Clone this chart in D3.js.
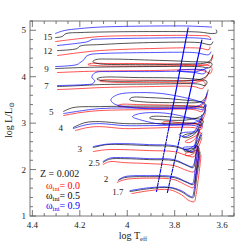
<!DOCTYPE html>
<html><head><meta charset="utf-8">
<script src="https://cdn.jsdelivr.net/npm/d3@7"></script>
<style>
html,body{margin:0;padding:0;background:#fff;}
svg{display:block;}
text{font-family:"Liberation Serif","DejaVu Serif",serif;}
</style></head>
<body>
<svg id="c" width="247" height="247"></svg>
<script>
// ---- data: tracks [logTeff, logL] ----
const xTicks = [4.4, 4.2, 4.0, 3.8, 3.6];
const xTickLabels = ["4.4", "4.2", "4", "3.8", "3.6"];
const yTicks = [1, 2, 3, 4, 5];
const yTickLabels = ["1", "2", "3", "4", "5"];
const rotations = ["0.0", "0.5", "0.9"];
const metallicity = "0.002";
const massLabels = ["15", "12", "9", "7", "5", "4", "3", "2.5", "2", "1.7"];
const massLabelPos = [[4.335,4.86],[4.335,4.55],[4.34,4.16],[4.34,3.79],[4.32,3.23],[4.28,2.90],[4.20,2.44],[4.14,2.14],[4.09,1.79],[4.04,1.52]];

const red15 = [[4.304,4.757],[4.199,4.822],[4.116,4.865],[3.906,4.886],[3.697,4.886],[3.655,4.865],[3.647,4.800]];
const black15 = [[4.304,4.843],[4.275,4.865],[4.258,4.929],[4.199,4.951],[4.116,4.962],[3.906,4.972],[3.697,4.962],[3.639,4.929],[3.622,4.951],[3.626,5.015]];
const blue15 = [[4.304,4.929],[4.266,4.994],[4.199,5.037],[4.116,5.069],[3.906,5.091],[3.739,5.091],[3.643,5.069]];

const red12 = [[4.296,4.455],[4.199,4.520],[4.116,4.563],[3.906,4.606],[3.697,4.617],[3.655,4.584],[3.651,4.649]];
const black12 = [[4.296,4.563],[4.212,4.606],[4.199,4.660],[4.116,4.692],[3.906,4.735],[3.697,4.735],[3.647,4.692],[3.639,4.757]];
const blue12 = [[4.296,4.671],[4.220,4.714],[4.166,4.757],[4.149,4.800],[4.116,4.811],[3.906,4.832],[3.697,4.832],[3.647,4.800]];

const red9 = [[4.296,4.089],[4.199,4.110],[4.116,4.121],[3.906,4.132],[3.697,4.143],[3.668,4.110],[3.651,4.067],[3.643,4.132],[3.647,4.218],[3.739,4.261],[3.906,4.283],[4.074,4.283],[4.157,4.283],[4.166,4.261],[4.137,4.240],[3.990,4.229],[3.781,4.240],[3.664,4.261],[3.647,4.326],[3.639,4.455]];
const black9 = [[4.304,4.175],[4.199,4.197],[4.116,4.207],[3.906,4.218],[3.697,4.218],[3.651,4.197],[3.643,4.283],[3.739,4.326],[3.906,4.358],[4.074,4.380],[4.132,4.369],[4.145,4.326],[4.124,4.283],[3.990,4.261],[3.781,4.272],[3.655,4.326],[3.639,4.477]];
const blue9 = [[4.304,4.218],[4.212,4.261],[4.199,4.304],[4.182,4.369],[4.174,4.434],[4.157,4.477],[4.116,4.498],[3.906,4.520],[3.718,4.520],[3.655,4.477],[3.647,4.541]];

const red7 = [[4.296,3.722],[4.199,3.744],[4.116,3.765],[3.906,3.787],[3.718,3.787],[3.685,3.744],[3.672,3.809],[3.676,3.895],[3.781,3.916],[3.990,3.927],[4.107,3.927],[4.116,3.906],[4.074,3.884],[3.865,3.873],[3.697,3.895],[3.668,3.981],[3.655,4.110]];
const black7 = [[4.296,3.787],[4.199,3.809],[4.116,3.830],[3.906,3.841],[3.697,3.841],[3.672,3.809],[3.664,3.895],[3.739,3.959],[3.948,3.981],[4.116,3.981],[4.128,3.949],[4.103,3.916],[3.906,3.906],[3.697,3.938],[3.664,4.024],[3.651,4.153]];
const blue7 = [[4.296,3.809],[4.178,3.830],[4.145,3.852],[4.137,3.916],[4.149,3.981],[4.145,4.046],[4.128,4.100],[4.074,4.110],[3.906,4.110],[3.739,4.110],[3.676,4.067],[3.668,4.132],[3.760,4.153],[3.789,4.132],[3.718,4.100],[3.659,4.197]];

const red5 = [[4.270,3.162],[4.199,3.227],[4.116,3.270],[3.906,3.291],[3.718,3.291],[3.685,3.248],[3.676,3.334],[3.781,3.378],[3.948,3.399],[4.032,3.399],[4.040,3.367],[3.990,3.345],[3.823,3.334],[3.697,3.356],[3.672,3.464],[3.664,3.615]];
const black5 = [[4.270,3.248],[4.229,3.334],[4.116,3.356],[3.906,3.367],[3.706,3.356],[3.680,3.334],[3.672,3.421],[3.781,3.507],[3.906,3.550],[3.982,3.550],[3.990,3.507],[3.948,3.464],[3.781,3.442],[3.689,3.464],[3.668,3.571],[3.659,3.722]];
const blue5 = [[4.270,3.205],[4.116,3.313],[3.906,3.324],[3.706,3.313],[3.680,3.291],[3.676,3.399],[3.823,3.615],[3.948,3.658],[4.040,3.615],[4.069,3.507],[4.057,3.421],[3.978,3.334],[3.823,3.313],[3.697,3.378],[3.672,3.507],[3.664,3.658]];

const red4 = [[4.220,2.839],[4.170,2.903],[4.116,2.925],[4.011,2.882],[3.906,2.893],[3.718,2.903],[3.689,2.860],[3.685,2.947],[3.781,3.011],[3.844,3.033],[3.852,3.000],[3.802,2.979],[3.697,3.011],[3.676,3.140],[3.668,3.291]];
const black4 = [[4.229,2.903],[4.178,3.011],[4.116,3.033],[4.011,2.990],[3.906,2.990],[3.714,2.990],[3.689,2.947],[3.680,3.054],[3.781,3.119],[3.898,3.140],[3.906,3.108],[3.865,3.076],[3.739,3.076],[3.680,3.184],[3.668,3.399]];
const blue4 = [[4.229,2.882],[4.170,2.968],[4.116,2.990],[4.011,2.947],[3.906,2.947],[3.714,2.947],[3.689,2.903],[3.685,2.990],[3.823,3.205],[3.948,3.205],[3.978,3.140],[3.948,3.076],[3.835,2.968],[3.697,3.054],[3.676,3.227],[3.668,3.399]];

const red3 = [[4.145,2.386],[4.086,2.429],[4.011,2.429],[3.906,2.408],[3.802,2.386],[3.747,2.300],[3.718,2.278],[3.706,2.472],[3.693,2.817],[3.710,2.731],[3.743,2.645],[3.756,2.602],[3.739,2.580],[3.710,2.688],[3.685,3.033],[3.680,3.119]];
const black3 = [[4.145,2.472],[4.086,2.537],[4.011,2.537],[3.906,2.515],[3.802,2.494],[3.747,2.408],[3.722,2.365],[3.706,2.645],[3.697,2.860],[3.714,2.796],[3.756,2.753],[3.768,2.709],[3.747,2.688],[3.710,2.796],[3.685,3.119]];
const blue3 = [[4.145,2.494],[4.086,2.548],[4.011,2.559],[3.906,2.537],[3.802,2.515],[3.752,2.429],[3.726,2.386],[3.710,2.645],[3.701,2.860],[3.718,2.817],[3.764,2.796],[3.781,2.753],[3.756,2.709],[3.714,2.839],[3.685,3.184]];

const red25 = [[4.103,2.106],[4.074,2.171],[4.011,2.149],[3.906,2.128],[3.802,2.084],[3.747,1.977],[3.718,1.955],[3.706,2.257],[3.701,2.429],[3.722,2.386],[3.756,2.343],[3.752,2.300],[3.714,2.365],[3.685,2.688]];
const black25 = [[4.103,2.149],[4.074,2.2245],[4.011,2.235],[3.906,2.214],[3.802,2.192],[3.747,2.084],[3.722,2.041],[3.710,2.321],[3.701,2.494],[3.726,2.451],[3.760,2.429],[3.756,2.386],[3.718,2.451],[3.685,2.753]];
const blue25 = [[4.103,2.171],[4.074,2.246],[4.011,2.257],[3.906,2.235],[3.802,2.214],[3.752,2.106],[3.726,2.063],[3.710,2.343],[3.706,2.515],[3.726,2.494],[3.764,2.472],[3.760,2.429],[3.722,2.494],[3.685,2.796]];

const red2 = [[4.044,1.718],[4.011,1.783],[3.906,1.815],[3.802,1.783],[3.747,1.653],[3.722,1.610],[3.710,1.890],[3.701,2.214],[3.697,2.429]];
const black2 = [[4.040,1.761],[4.011,1.826],[3.906,1.847],[3.802,1.826],[3.747,1.718],[3.722,1.675],[3.710,1.955],[3.701,2.257],[3.697,2.472]];
const blue2 = [[4.036,1.783],[4.011,1.847],[3.906,1.869],[3.802,1.847],[3.752,1.740],[3.726,1.696],[3.714,1.998],[3.706,2.300],[3.701,2.515]];

const red17 = [[3.982,1.481],[3.906,1.546],[3.823,1.567],[3.772,1.459],[3.739,1.330],[3.718,1.309],[3.710,1.459],[3.701,1.783],[3.693,2.106],[3.689,2.321]];
const black17 = [[3.990,1.524],[3.906,1.589],[3.823,1.610],[3.772,1.524],[3.739,1.416],[3.722,1.395],[3.714,1.567],[3.706,1.869],[3.697,2.171],[3.693,2.386]];
const blue17 = [[3.990,1.546],[3.906,1.610],[3.823,1.621],[3.772,1.546],[3.739,1.438],[3.726,1.416],[3.718,1.567],[3.710,1.869],[3.701,2.171],[3.697,2.386]];

// instability strip edges
const stripBlueEdge = [[3.743,5.06],[3.877,1.52]];
const stripRedEdge = [[3.685,4.80],[3.831,1.50]];
const stripDashBelow = 2.9;

const tracksByRotation = [
  [red15, red12, red9, red7, red5, red4, red3, red25, red2, red17],
  [black15, black12, black9, black7, black5, black4, black3, black25, black2, black17],
  [blue15, blue12, blue9, blue7, blue5, blue4, blue3, blue25, blue2, blue17]
];
const colors = ["#ff0000", "#000000", "#0000ff"];

// ---- drawing ----
const svg = d3.select("#c");
const L = 30, R = 234, T = 21, B = 216;
const x = d3.scaleLinear().domain([4.41, 3.55]).range([L, R]);
const y = d3.scaleLinear().domain([1, 5.2]).range([B, T]);

const line = d3.line().x(d => x(d[0])).y(d => y(d[1])).curve(d3.curveCatmullRom.alpha(0.5));

const plot = svg.append("g");
plot.append("clipPath").attr("id","clp").append("rect").attr("x",L).attr("y",T).attr("width",R-L).attr("height",B-T);
const g = plot.append("g").attr("clip-path","url(#clp)");

tracksByRotation.forEach((tracks, i) => {
  tracks.forEach(tr => {
    g.append("path").attr("d", line(tr)).attr("fill","none")
      .attr("stroke", colors[i]).attr("stroke-width", 0.8).attr("stroke-opacity", 0.85);
  });
});

// instability strip
function edgeAt(edge, l) {
  const t = (l - edge[0][1]) / (edge[1][1] - edge[0][1]);
  return [edge[0][0] + t * (edge[1][0] - edge[0][0]), l];
}
const straight = d3.line().x(d => x(d[0])).y(d => y(d[1]));
[stripBlueEdge, stripRedEdge].forEach(edge => {
  const mid = edgeAt(edge, stripDashBelow);
  g.append("path").attr("d", straight([edge[0], mid])).attr("stroke","#0000ff").attr("stroke-width",1.2).attr("fill","none");
  g.append("path").attr("d", straight([mid, edge[1]])).attr("stroke","#0000ff").attr("stroke-width",1.1)
    .attr("stroke-dasharray","4,3").attr("fill","none");
  g.append("path").attr("d", straight([mid, edge[1]])).attr("stroke","#000").attr("stroke-width",1)
    .attr("stroke-dasharray","2,5").attr("stroke-dashoffset",-4.5).attr("fill","none");
});

// frame
svg.append("rect").attr("x",L).attr("y",T).attr("width",R-L).attr("height",B-T)
  .attr("fill","none").attr("stroke","#777").attr("stroke-width",1);

// ticks
const tickG = svg.append("g").attr("stroke","#555").attr("stroke-width",0.8);
d3.range(3.55, 4.4101, 0.05).forEach(v => {
  const major = xTicks.some(t => Math.abs(t - v) < 1e-6);
  const len = major ? 6 : 3;
  tickG.append("line").attr("x1",x(v)).attr("x2",x(v)).attr("y1",B).attr("y2",B-len);
  tickG.append("line").attr("x1",x(v)).attr("x2",x(v)).attr("y1",T).attr("y2",T+len);
});
d3.range(1, 5.2001, 0.2).forEach(v => {
  const major = yTicks.some(t => Math.abs(t - v) < 1e-6);
  const len = major ? 6 : 3;
  tickG.append("line").attr("y1",y(v)).attr("y2",y(v)).attr("x1",L).attr("x2",L+len);
  tickG.append("line").attr("y1",y(v)).attr("y2",y(v)).attr("x1",R).attr("x2",R-len);
});

xTicks.forEach((v,i) => {
  svg.append("text").attr("x",x(v)).attr("y",B+12).attr("text-anchor","middle")
    .attr("font-size",9).attr("fill","#222").text(xTickLabels[i]);
});
yTicks.forEach((v,i) => {
  svg.append("text").attr("x",L-4).attr("y",y(v)+3).attr("text-anchor","end")
    .attr("font-size",9).attr("fill","#222").text(yTickLabels[i]);
});

// axis labels
const xl = svg.append("text").attr("x",133).attr("y",239).attr("text-anchor","middle").attr("font-size",10).attr("fill","#222");
xl.append("tspan").text("log T");
xl.append("tspan").attr("font-size",6.5).attr("dy",2).text("eff");
const yl = svg.append("text").attr("transform","translate(12,120) rotate(-90)").attr("text-anchor","middle").attr("font-size",10).attr("fill","#222");
yl.append("tspan").text("log L/L");
yl.append("tspan").attr("font-size",7).attr("dy",2).text("⊙");

// mass labels
massLabels.forEach((m,i) => {
  svg.append("text").attr("x",x(massLabelPos[i][0])).attr("y",y(massLabelPos[i][1])+3)
    .attr("text-anchor","middle").attr("font-size",9).attr("fill","#222").text(m);
});

// legend
svg.append("text").attr("x",40).attr("y",177).attr("font-size",10).attr("fill","#222").text("Z = " + metallicity);
rotations.forEach((r,i) => {
  const t = svg.append("text").attr("x",46).attr("y",189 + i*10).attr("font-size",10).attr("fill",colors[i]);
  t.append("tspan").text("ω");
  t.append("tspan").attr("font-size",6.5).attr("dy",1.5).text("ini");
  t.append("tspan").attr("dy",-1.5).text("= " + r);
});
</script>
</body></html>
